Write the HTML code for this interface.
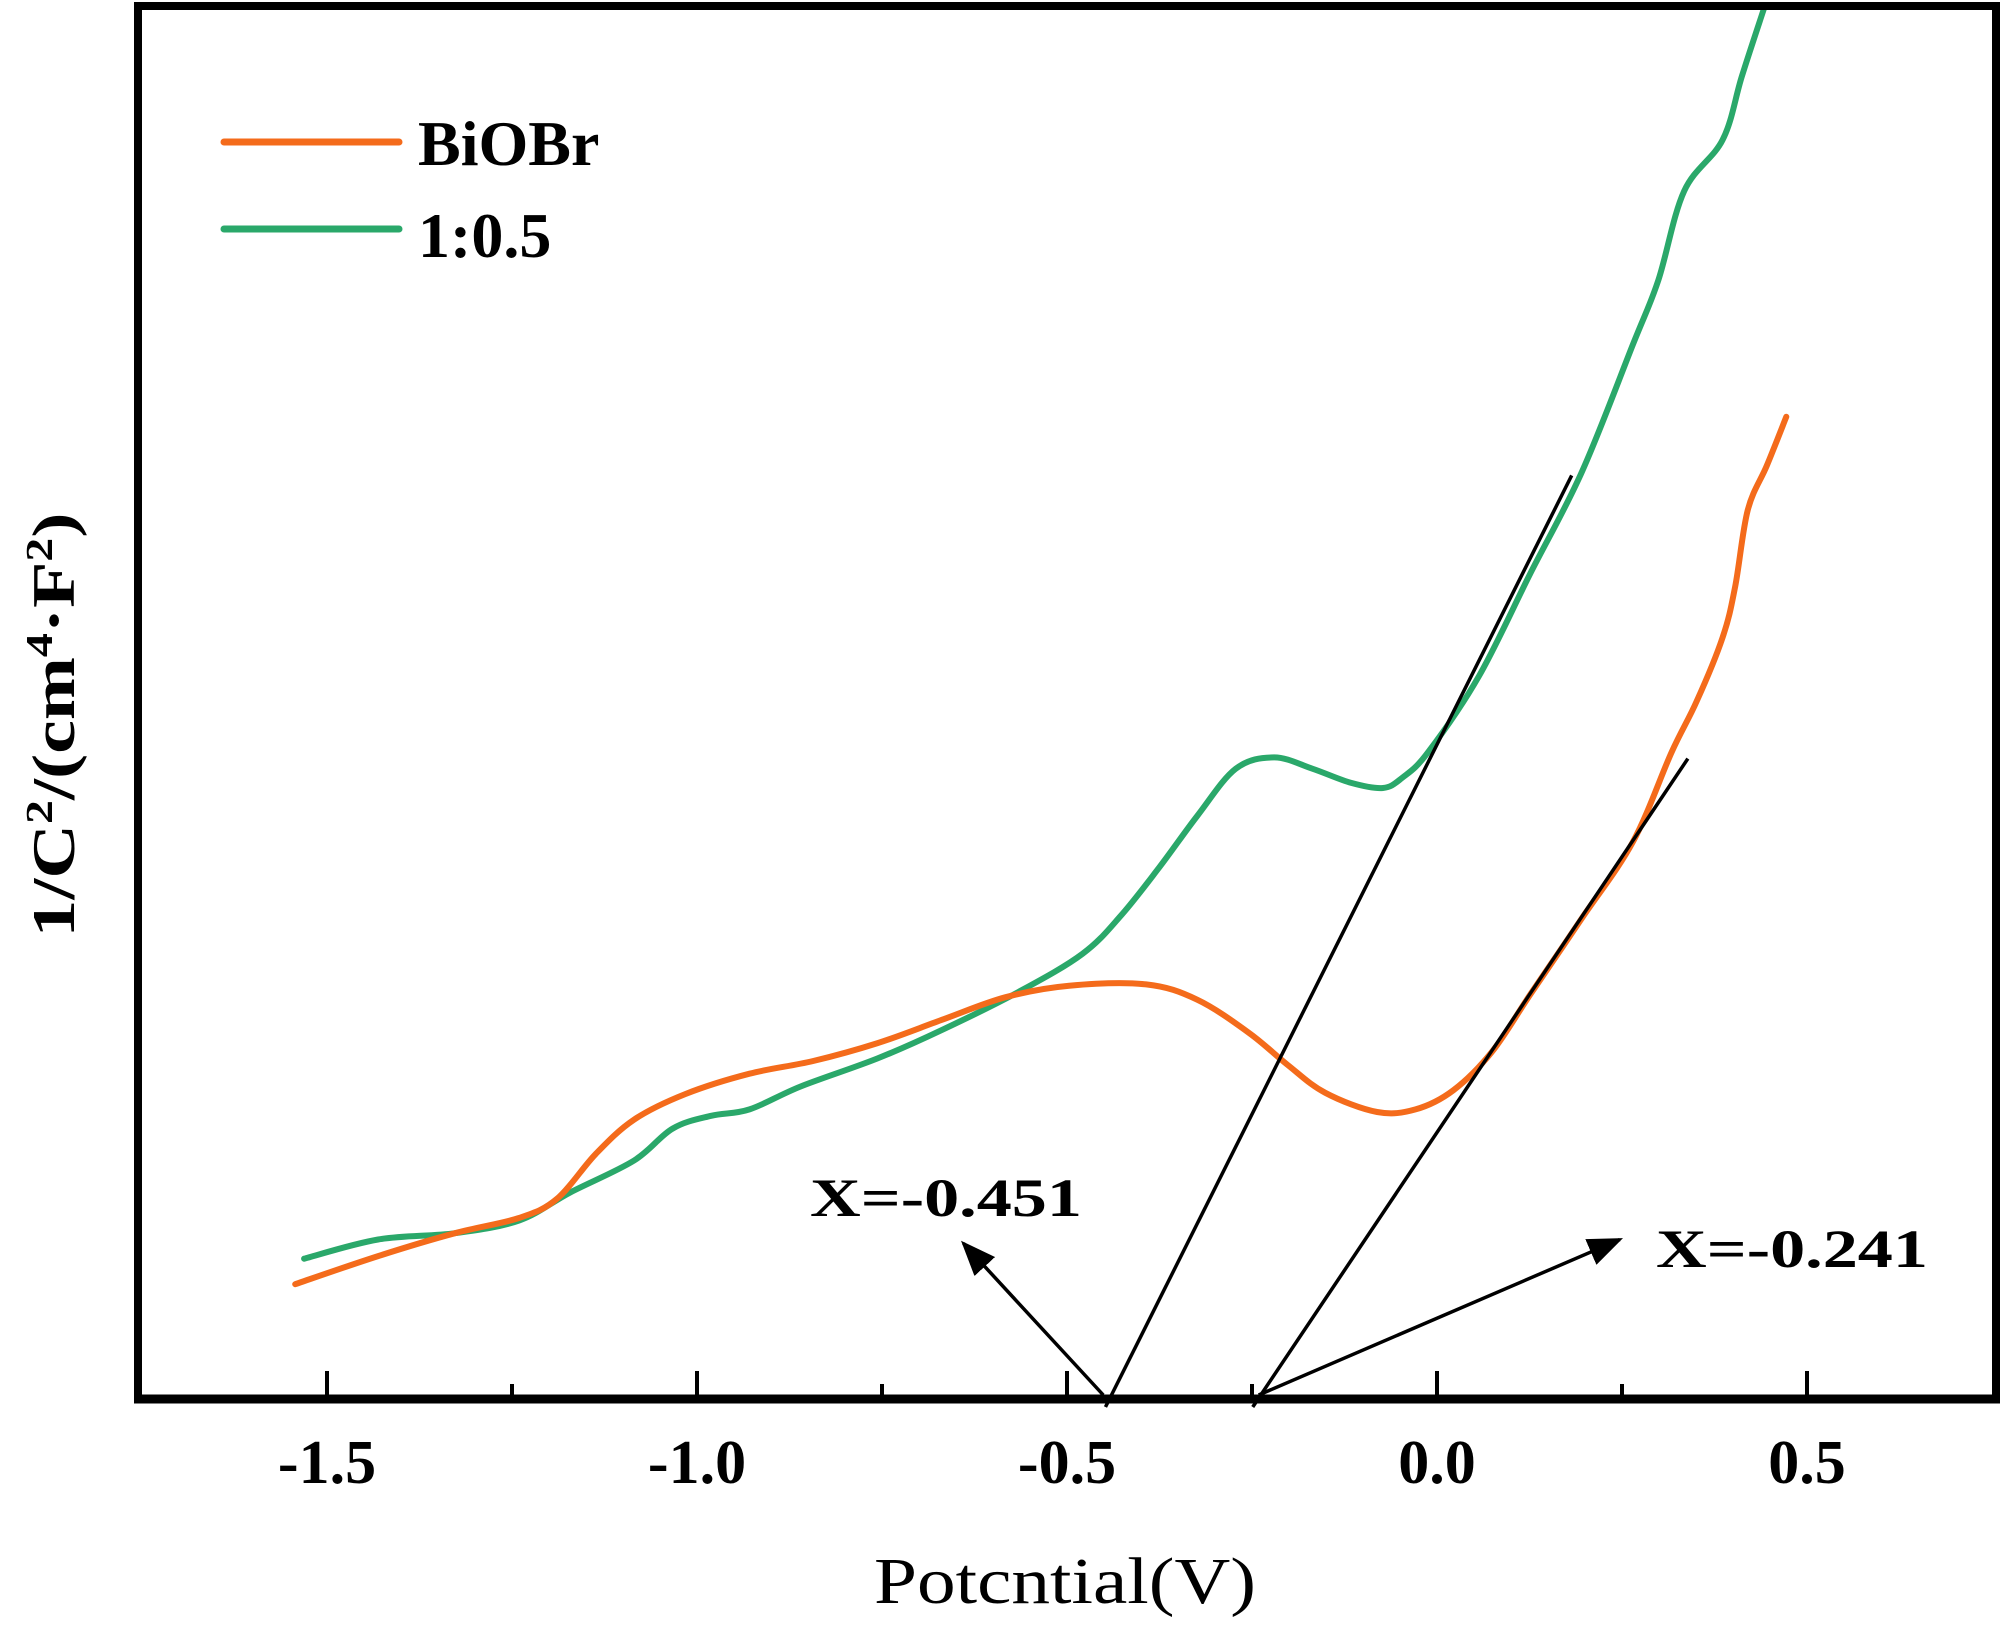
<!DOCTYPE html>
<html><head><meta charset="utf-8"><style>
html,body{margin:0;padding:0;background:#fff;}
svg{display:block;}
text{font-family:"Liberation Serif",serif;}
</style></head><body>
<svg id="chart" width="2000" height="1627" viewBox="0 0 2000 1627" xmlns="http://www.w3.org/2000/svg">
<g id="plot"></g>
<g id="axes"></g>
</svg>
<script>
const xTicks = [-1.5, -1.0, -0.5, 0.0, 0.5];
const xTickLabels = ["-1.5", "-1.0", "-0.5", "0.0", "0.5"];
const xMinorTicks = [-1.25, -0.75, -0.25, 0.25];
const biobrX = [-1.543,-1.431,-1.327,-1.240,-1.189,-1.137,-1.085,-1.016,-0.929,-0.843,-0.756,-0.670,-0.583,-0.497,-0.393,-0.324,-0.254,-0.202,-0.151,-0.081,-0.029,0.022,0.074,0.126,0.196,0.265,0.317,0.351,0.386,0.403,0.420,0.446,0.472];
const biobrY = [0.90,1.12,1.30,1.42,1.57,1.92,2.19,2.39,2.55,2.65,2.79,2.97,3.15,3.24,3.25,3.13,2.87,2.62,2.40,2.25,2.27,2.42,2.72,3.17,3.77,4.37,5.07,5.47,5.97,6.37,6.97,7.32,7.70];
const compX = [-1.531,-1.431,-1.327,-1.240,-1.171,-1.085,-1.033,-0.981,-0.929,-0.860,-0.756,-0.670,-0.566,-0.479,-0.427,-0.375,-0.324,-0.272,-0.220,-0.168,-0.116,-0.073,-0.047,-0.012,0.057,0.126,0.196,0.265,0.299,0.334,0.386,0.412,0.443];
const compY = [1.10,1.25,1.30,1.40,1.62,1.87,2.12,2.22,2.27,2.45,2.67,2.89,3.19,3.49,3.79,4.17,4.57,4.94,5.03,4.94,4.83,4.79,4.87,5.07,5.67,6.47,7.27,8.27,8.77,9.47,9.87,10.37,10.92];
const fitLine1 = [-0.448, 0, 0.182, 7.24];
const fitLine2 = [-0.249, 0, 0.339, 5.02];
const intercepts = [-0.451, -0.241];
const arrowTips = [[-0.640, 1.22], [0.247, 1.25]];

const NS = "http://www.w3.org/2000/svg";
const X0 = 138, X1 = 1996, Y0 = 1399, YT = 6;
function xs(v){ return 1437 + v * 740; }
function ys(v){ return 1399 - v * (1393 / 10.92); }
function mk(tag, attrs, parent){
  const e = document.createElementNS(NS, tag);
  for (const k in attrs) e.setAttribute(k, attrs[k]);
  parent.appendChild(e); return e;
}
const plot = document.getElementById('plot');
const axes = document.getElementById('axes');

const frame = mk('path', {d:`M${X0} ${Y0} V${YT} H${X1} V${Y0}`, fill:'none', stroke:'#000', 'stroke-width':8}, axes);


const xaxis = mk('line', {x1:X0-4, y1:Y0, x2:X1+4, y2:Y0, stroke:'#000', 'stroke-width':9}, axes);



xTicks.forEach((t, i) => {
  const tk = mk('line', {x1:xs(t), y1:Y0, x2:xs(t), y2:Y0-28, stroke:'#000', 'stroke-width':4}, axes);
  
  
  const lb = mk('text', {x:xs(t), y:1483, 'text-anchor':'middle', 'font-size':62, 'font-weight':'bold'}, axes);
  lb.textContent = xTickLabels[i];
  
  
});
xMinorTicks.forEach(t => {
  const tk = mk('line', {x1:xs(t), y1:Y0, x2:xs(t), y2:Y0-15, stroke:'#000', 'stroke-width':4}, axes);
  
  
});

const xl = mk('text', {x:1065, y:1603, 'text-anchor':'middle', 'font-size':66, textLength:382, lengthAdjust:'spacingAndGlyphs'}, axes);
xl.textContent = 'Potcntial(V)';



const yl = mk('text', {x:0, y:0, 'text-anchor':'middle', 'font-size':60, 'font-weight':'bold', transform:'translate(74,725) rotate(-90)', textLength:425, lengthAdjust:'spacingAndGlyphs'}, axes);
yl.innerHTML = '1/C<tspan dy="-22" font-size="38">2</tspan><tspan dy="22">/(cm</tspan><tspan dy="-22" font-size="38">4</tspan><tspan dy="22">·F</tspan><tspan dy="-22" font-size="38">2</tspan><tspan dy="22">)</tspan>';



function series(xa, ya, color, name){
  const P = xa.map((x, i) => [xs(x), ys(ya[i])]);
  let d = `M${P[0][0].toFixed(1)} ${P[0][1].toFixed(1)}`;
  for (let i = 0; i < P.length - 1; i++) {
    const p0 = P[i-1] || P[i], p1 = P[i], p2 = P[i+1], p3 = P[i+2] || P[i+1];
    const c1 = [p1[0] + (p2[0]-p0[0])/6, p1[1] + (p2[1]-p0[1])/6];
    const c2 = [p2[0] - (p3[0]-p1[0])/6, p2[1] - (p3[1]-p1[1])/6];
    d += ` C${c1[0].toFixed(1)} ${c1[1].toFixed(1)} ${c2[0].toFixed(1)} ${c2[1].toFixed(1)} ${p2[0].toFixed(1)} ${p2[1].toFixed(1)}`;
  }
  const p = mk('path', {d, fill:'none', stroke:color, 'stroke-width':6, 'stroke-linejoin':'round', 'stroke-linecap':'round'}, plot);
  
  
}
series(compX, compY, '#2aa86a', 'series-1-0.5');
series(biobrX, biobrY, '#f46b1b', 'series-biobr');

[fitLine1, fitLine2].forEach((f, i) => {
  const l = mk('line', {x1:xs(f[0]), y1:ys(f[1])+8, x2:xs(f[2]), y2:ys(f[3]), stroke:'#000', 'stroke-width':3.5}, plot);
  
  
});

const defs = mk('defs', {}, plot);
const mkr = mk('marker', {id:'ah', markerWidth:10, markerHeight:8, refX:9, refY:4, orient:'auto', markerUnits:'strokeWidth'}, defs);
mk('path', {d:'M0 0 L10 4 L0 8 Z', fill:'#000'}, mkr);
intercepts.forEach((v, i) => {
  const a = mk('line', {x1:xs(v), y1:Y0-4, x2:xs(arrowTips[i][0]), y2:ys(arrowTips[i][1]), stroke:'#000', 'stroke-width':3.5, 'marker-end':'url(#ah)'}, plot);
  
  
});
const ann = [[810, 1216, 'X=' + intercepts[0].toFixed(3)], [1656, 1267, 'X=' + intercepts[1].toFixed(3)]];
ann.forEach((a, i) => {
  const t = mk('text', {x:a[0], y:a[1], 'font-size':54, 'font-weight':'bold', textLength:272, lengthAdjust:'spacingAndGlyphs'}, plot);
  t.textContent = a[2];
  
  
});

const lg = mk('g', {}, axes);


[['BiOBr', '#f46b1b', 142, 165], ['1:0.5', '#2aa86a', 229, 257]].forEach(e => {
  const l = mk('line', {x1:224, y1:e[2], x2:399, y2:e[2], stroke:e[1], 'stroke-width':7, 'stroke-linecap':'round'}, lg);
  
  
  const t = mk('text', {x:418, y:e[3], 'font-size':64, 'font-weight':'bold'}, lg);
  t.textContent = e[0];
  
  
});
</script>
</body></html>
